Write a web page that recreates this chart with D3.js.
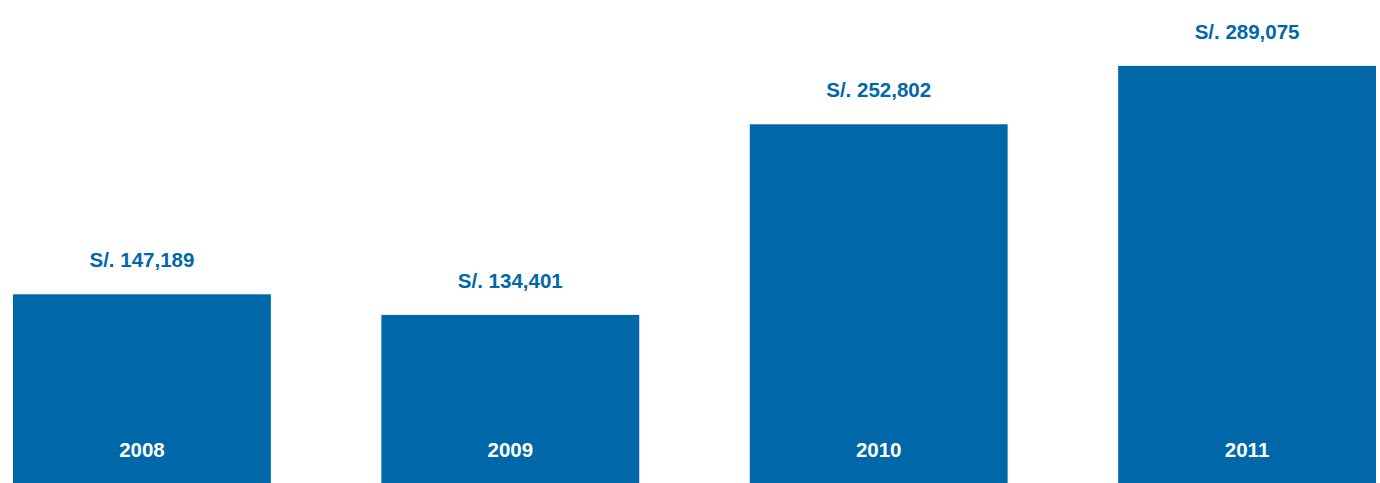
<!DOCTYPE html>
<html>
<head>
<meta charset="utf-8">
<script src="https://cdn.jsdelivr.net/npm/d3@7/dist/d3.min.js"></script>
<style>
  html, body { margin: 0; padding: 0; background: #ffffff; }
  svg { display: block; }
  text { font-family: "Liberation Sans", Arial, Helvetica, sans-serif; font-weight: bold; }
</style>
</head>
<body>
<svg id="chart" width="1380" height="483"></svg>
<script>
// Yearly totals (soles)
const years = ["2008", "2009", "2010", "2011"];
const totals = [147189, 134401, 252802, 289075];
const valueLabels = ["S/. 147,189", "S/. 134,401", "S/. 252,802", "S/. 289,075"];

const W = 1380, H = 483;
const barColor = "#0068a9";

const svg = d3.select("#chart");

const x = d3.scaleBand()
  .domain(years)
  .range([13, 1376])
  .paddingInner(0.3)
  .paddingOuter(0);

// value axis starts above zero, bars run off the bottom edge
const y = d3.scaleLinear()
  .domain([30000, 330000])
  .range([H, 0]);

const rows = years.map((yr, i) => ({ year: yr, value: totals[i], label: valueLabels[i] }));

const g = svg.append("g");

g.selectAll("rect.bar")
  .data(rows)
  .join("rect")
  .attr("class", "bar")
  .attr("x", d => x(d.year))
  .attr("y", d => y(d.value))
  .attr("width", x.bandwidth())
  .attr("height", d => H - y(d.value))
  .attr("fill", barColor);

// value labels above each bar
g.selectAll("text.value")
  .data(rows)
  .join("text")
  .attr("class", "value")
  .attr("x", d => x(d.year) + x.bandwidth() / 2)
  .attr("y", d => y(d.value) - 27)
  .attr("text-anchor", "middle")
  .attr("font-size", 20.5)
  .attr("fill", barColor)
  .text(d => d.label);

// year labels inside the bars
g.selectAll("text.year")
  .data(rows)
  .join("text")
  .attr("class", "year")
  .attr("x", d => x(d.year) + x.bandwidth() / 2)
  .attr("y", 457)
  .attr("text-anchor", "middle")
  .attr("font-size", 20.5)
  .attr("fill", "#ffffff")
  .text(d => d.year);
</script>
</body>
</html>
